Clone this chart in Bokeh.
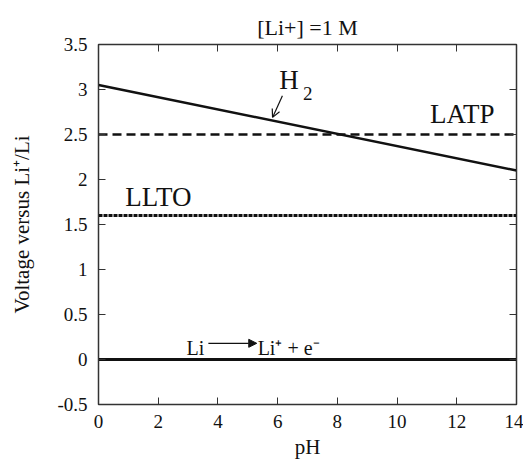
from bokeh.plotting import figure
from bokeh.models import (FixedTicker, CustomJSTickFormatter, LinearAxis, Range1d,
                          Label, Arrow, NormalHead, OpenHead)
from bokeh.embed import file_html
from bokeh.resources import INLINE

# data
ph = [0, 14]
h2 = [3.05, 2.1]
latp = [2.5, 2.5]
llto = [1.6, 1.6]
li = [0.0, 0.0]
x_ticks = [0, 2, 4, 6, 8, 10, 12, 14]
y_ticks = [-0.5, 0, 0.5, 1, 1.5, 2, 2.5, 3, 3.5]

FONT = "Liberation Serif"
INK = "#111111"

p = figure(width=523, height=465, output_backend="svg", toolbar_location=None,
           x_range=Range1d(0, 14), y_range=Range1d(-0.5, 3.5),
           min_border_left=98, min_border_right=7, min_border_top=44, min_border_bottom=61,
           title="[Li+] =1 M")
p.title.text_font = FONT
p.title.text_font_size = "22px"
p.title.text_font_style = "normal"
p.title.align = "center"
p.title.text_color = INK
p.title.offset = 0
p.grid.visible = False
p.outline_line_color = "#333333"
p.outline_line_width = 1.5

fmt = CustomJSTickFormatter(code="return tick.toString();")
for ax, ticks in ((p.xaxis[0], x_ticks), (p.yaxis[0], y_ticks)):
    ax.ticker = FixedTicker(ticks=ticks)
    ax.formatter = fmt
    ax.major_tick_in = 7
    ax.major_tick_out = 0
    ax.minor_tick_line_color = None
    ax.major_label_text_font = FONT
    ax.major_label_text_font_size = "19px"
    ax.major_label_text_color = INK
    ax.axis_label_text_font = FONT
    ax.axis_label_text_font_size = "21px"
    ax.axis_label_text_font_style = "normal"
    ax.axis_label_text_color = INK
    ax.axis_line_color = "#333333"
    ax.major_tick_line_color = "#333333"
p.xaxis[0].axis_label = "pH"
p.yaxis[0].axis_label = "Voltage versus Li\u207a/Li"
p.xaxis[0].major_label_standoff = 10
p.yaxis[0].major_label_standoff = 11
p.xaxis[0].axis_label_standoff = 4
p.yaxis[0].axis_label_standoff = 20

for loc, ticks in (("right", y_ticks), ("above", x_ticks)):
    a = LinearAxis(ticker=FixedTicker(ticks=ticks), major_label_text_font_size="0px",
                   major_tick_in=7, major_tick_out=0, minor_tick_line_color=None,
                   axis_line_color="#333333", major_tick_line_color="#333333",
                   major_label_standoff=0)
    p.add_layout(a, loc)

p.line(ph, h2, line_color=INK, line_width=2.5)
p.line(ph, latp, line_color=INK, line_width=2.5, line_dash="9 5")
p.line(ph, llto, line_color=INK, line_width=3, line_dash="4 1")
p.line(ph, li, line_color=INK, line_width=3)

def lab(x, y, t, size):
    p.add_layout(Label(x=x, y=y, text=t, text_font=FONT, text_font_size=size,
                       text_color=INK, text_baseline="alphabetic"))

lab(6.05, 3.11, "H", "27px")
lab(6.85, 2.96, "2", "19px")
lab(11.1, 2.73, "LATP", "27px")
lab(0.9, 1.81, "LLTO", "27px")
lab(2.95, 0.13, "Li", "20px")
lab(5.33, 0.13, "Li\u207a + e\u207b", "20px")

p.add_layout(Arrow(end=OpenHead(size=8, line_color=INK, line_width=1.2),
                   x_start=6.16, y_start=2.93, x_end=5.83, y_end=2.69,
                   line_color=INK, line_width=1.2))
p.add_layout(Arrow(end=NormalHead(size=8, fill_color=INK, line_color=INK),
                   x_start=3.68, y_start=0.18, x_end=5.3, y_end=0.18,
                   line_color=INK, line_width=1.2))

open("out.html", "w").write(file_html(p, INLINE))
